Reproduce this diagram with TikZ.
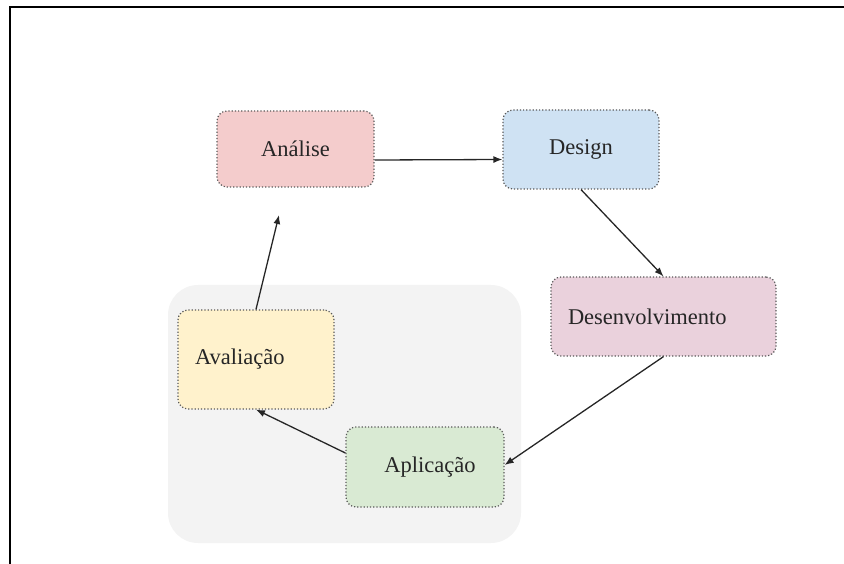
\documentclass[tikz,border=0pt]{standalone}
\usepackage{fontspec}
\setmainfont{Liberation Serif}
\usetikzlibrary{arrows.meta}

\definecolor{anapink}{HTML}{F4CCCC}
\definecolor{desblue}{HTML}{CFE2F3}
\definecolor{devrose}{HTML}{EAD1DC}
\definecolor{avalyellow}{HTML}{FFF2CC}
\definecolor{aplgreen}{HTML}{D9EAD3}
\definecolor{bggrey}{HTML}{F3F3F3}

\tikzstyle{phase} = [rectangle, rounded corners=10pt, draw=black!65, dotted,
  line width=1.2pt, inner xsep=17pt, inner ysep=0pt, text=black!85,
  font=\fontsize{22.5}{26}\selectfont]
\tikzstyle{flow} = [-{Latex[length=9pt,width=7pt]}, line width=1.3pt, black!85]

\begin{document}
\begin{tikzpicture}[x=1pt, y=-1pt]
      \useasboundingbox (0,0) rectangle (844,564);
      % frame
      \draw[line width=1.6pt] (10,564) -- (10,7) -- (844,7);
      % grey area
      \fill[bggrey, rounded corners=30pt] (168,285) rectangle (521,543);
      % phases
      \node[phase, fill=anapink, text width=123pt, minimum height=76pt, align=center]
        (analise) at (295.5,149) {Análise};
      \node[phase, fill=desblue, text width=122pt, minimum height=79pt, align=center]
        (design) at (581,149.5) {\raisebox{-5pt}{Design}};
      \node[phase, fill=devrose, text width=191pt, minimum height=79pt, align=left]
        (desenv) at (663.5,316.5) {Desenvolvimento};
      \node[phase, fill=avalyellow, text width=122pt, minimum height=99pt, align=left]
        (aval) at (256,359.5) {Avaliação};
      \node[phase, fill=aplgreen, text width=124pt, minimum height=80pt, align=center]
        (aplic) at (425,467) {\hspace*{10pt}Aplicação};
      \coordinate (back) at (279,215);
      % arrows
      \draw[flow] ([yshift=-11pt]analise.east) -- ([yshift=-10pt]design.west);
      \draw[flow] (design.south) -- (desenv.north);
      \draw[flow] (desenv.south) -- ([yshift=2pt]aplic.east);
      \draw[flow] ([yshift=14pt]aplic.west) -- (aval.south);
      \draw[flow] (aval.north) -- (back);
    \end{tikzpicture}
\end{document}
